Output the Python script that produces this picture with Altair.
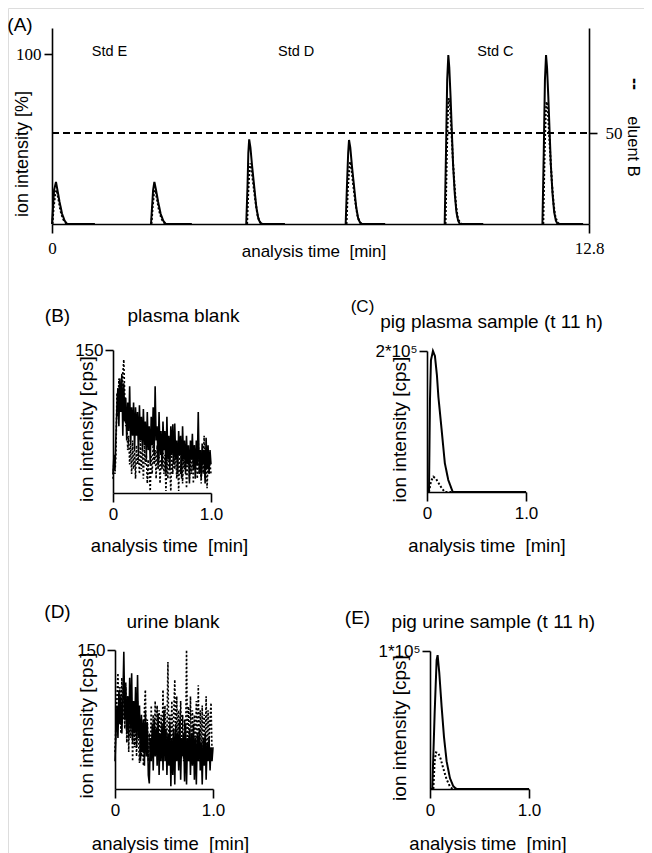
import altair as alt
import pandas as pd

SANS = "Liberation Sans"
SERIF = "Liberation Serif"

# ---------------- Panel A: six injections (Std E, Std D, Std C) ----------------
A_SOLID_TIME = [
    [0.00, 0.02, 0.05, 0.095, 0.13, 0.18, 0.24, 0.30, 0.36, 1.02],
    [2.36, 2.38, 2.41, 2.44, 2.48, 2.53, 2.59, 2.65, 2.71, 3.33],
    [4.63, 4.66, 4.68, 4.70, 4.73, 4.77, 4.82, 4.87, 4.92, 4.97, 5.02, 5.55],
    [7.00, 7.03, 7.06, 7.08, 7.11, 7.15, 7.20, 7.25, 7.30, 7.35, 7.40, 7.94],
    [9.36, 9.39, 9.42, 9.447, 9.47, 9.50, 9.53, 9.56, 9.60, 9.64, 9.68, 9.72, 10.28],
    [11.69, 11.72, 11.75, 11.776, 11.80, 11.83, 11.86, 11.89, 11.93, 11.97, 12.01, 12.05, 12.66],
]
A_SOLID_INT = [
    [0, 8, 20, 24.7, 20, 13, 6, 2, 0, 0],
    [0, 8, 20, 24.8, 20, 13, 6, 2, 0, 0],
    [0, 22, 42, 49.8, 45, 34, 22, 10, 3, 0.5, 0, 0],
    [0, 22, 42, 49.4, 45, 34, 22, 10, 3, 0.5, 0, 0],
    [0, 40, 85, 99.4, 92, 75, 55, 35, 18, 7, 2, 0, 0],
    [0, 40, 85, 99.4, 92, 75, 55, 35, 18, 7, 2, 0, 0],
]
A_DOT_TIME = [
    [0.01, 0.04, 0.08, 0.11, 0.15, 0.20, 0.26, 0.33, 0.40, 1.02],
    [2.37, 2.40, 2.43, 2.46, 2.50, 2.55, 2.61, 2.68, 2.75, 3.33],
    [4.65, 4.68, 4.71, 4.73, 4.76, 4.80, 4.85, 4.90, 4.95, 5.00, 5.55],
    [7.02, 7.05, 7.09, 7.11, 7.14, 7.18, 7.23, 7.28, 7.33, 7.38, 7.94],
    [9.38, 9.41, 9.44, 9.46, 9.49, 9.52, 9.55, 9.59, 9.63, 9.67, 9.72, 9.76, 10.28],
    [11.71, 11.74, 11.77, 11.79, 11.82, 11.85, 11.88, 11.92, 11.96, 12.00, 12.05, 12.09, 12.66],
]
A_DOT_INT = [
    [0, 10, 18, 20, 15, 8, 3, 0.5, 0, 0],
    [0, 10, 18, 20, 15, 8, 3, 0.5, 0, 0],
    [0, 20, 33, 35.7, 31, 23, 13, 5, 1.5, 0, 0],
    [0, 20, 34, 36.7, 32, 23, 13, 5, 1.5, 0, 0],
    [0, 40, 68, 74, 68, 55, 40, 24, 11, 4, 1, 0, 0],
    [0, 40, 66, 72, 66, 53, 39, 23, 11, 4, 1, 0, 0],
]
A_STD_LABEL = ["Std E", "Std D", "Std C"]
A_STD_TIME = [1.37, 5.82, 10.57]
A_STD_INT = [101.2, 101.2, 101.2]
ELUENT_TIME = [0.0, 12.8]
ELUENT_B = [50, 50]

# ---------------- Panels B and D: blanks (0..1 min, every 0.01 min) ----------------
BLANK_TIME = [0.00, 0.01, 0.02, 0.03, 0.04, 0.05, 0.06, 0.07, 0.08, 0.09,
              0.10, 0.11, 0.12, 0.13, 0.14, 0.15, 0.16, 0.17, 0.18, 0.19,
              0.20, 0.21, 0.22, 0.23, 0.24, 0.25, 0.26, 0.27, 0.28, 0.29,
              0.30, 0.31, 0.32, 0.33, 0.34, 0.35, 0.36, 0.37, 0.38, 0.39,
              0.40, 0.41, 0.42, 0.43, 0.44, 0.45, 0.46, 0.47, 0.48, 0.49,
              0.50, 0.51, 0.52, 0.53, 0.54, 0.55, 0.56, 0.57, 0.58, 0.59,
              0.60, 0.61, 0.62, 0.63, 0.64, 0.65, 0.66, 0.67, 0.68, 0.69,
              0.70, 0.71, 0.72, 0.73, 0.74, 0.75, 0.76, 0.77, 0.78, 0.79,
              0.80, 0.81, 0.82, 0.83, 0.84, 0.85, 0.86, 0.87, 0.88, 0.89,
              0.90, 0.91, 0.92, 0.93, 0.94, 0.95, 0.96, 0.97, 0.98, 0.99, 1.00]
B_SOLID = [20, 40, 25, 60, 90, 110, 70, 120, 85, 125,
           60, 115, 75, 100, 55, 95, 65, 112, 50, 90,
           60, 95, 45, 90, 60, 85, 40, 92, 55, 80,
           45, 88, 50, 75, 35, 85, 45, 70, 30, 80,
           50, 90, 40, 112, 55, 70, 30, 85, 40, 65,
           25, 75, 45, 65, 20, 80, 35, 60, 25, 70,
           40, 72, 30, 73, 35, 55, 20, 65, 40, 60,
           15, 70, 35, 55, 20, 60, 30, 50, 10, 55,
           35, 62, 25, 50, 15, 55, 30, 85, 20, 45,
           15, 52, 30, 45, 10, 58, 25, 50, 20, 45, 30]
B_DOT = [15, 35, 20, 40, 105, 80, 120, 95, 110, 100,
         125, 140, 100, 70, 85, 45, 60, 30, 50, 20,
         55, 25, 45, 15, 50, 30, 40, 20, 55, 25,
         45, 15, 50, 30, 40, 10, 35, 20, 2, 40,
         20, 55, 30, 45, 15, 50, 25, 40, 10, 35,
         30, 45, 20, 40, 2, 35, 15, 50, 25, 2,
         40, 20, 50, 25, 45, 15, 35, 2, 40, 20,
         55, 10, 35, 25, 45, 5, 30, 40, 15, 35,
         20, 45, 10, 50, 25, 40, 15, 55, 20, 35,
         10, 45, 20, 60, 15, 40, 5, 35, 20, 30, 20]
D_SOLID = [30, 60, 90, 55, 105, 70, 100, 60, 95, 148,
           75, 110, 60, 100, 55, 120, 65, 125, 50, 95,
           60, 110, 45, 123, 55, 90, 30, 80, 40, 75,
           25, 85, 35, 70, 15, 6, 55, 30, 70, 20,
           75, 35, 65, 25, 80, 15, 60, 30, 70, 20,
           85, 30, 65, 15, 60, 25, 70, 3, 55, 15,
           65, 5, 70, 30, 60, 20, 75, 10, 55, 35,
           60, 8, 70, 5, 55, 30, 65, 15, 60, 25,
           70, 10, 55, 5, 60, 30, 65, 20, 50, 5,
           55, 25, 60, 10, 50, 30, 55, 20, 45, 30, 45]
D_DOT = [40, 70, 100, 125, 80, 110, 60, 120, 75, 100,
         65, 115, 50, 100, 40, 95, 55, 85, 30, 90,
         45, 80, 35, 95, 50, 28, 70, 35, 60, 25,
         85, 107, 45, 75, 30, 60, 40, 90, 35, 80,
         45, 95, 40, 90, 50, 85, 35, 80, 45, 107,
         40, 90, 55, 60, 137, 35, 80, 45, 95, 40,
         85, 118, 35, 100, 50, 85, 45, 95, 40, 80,
         30, 75, 45, 150, 40, 89, 30, 100, 35, 85,
         40, 80, 35, 95, 45, 112, 30, 85, 40, 90,
         35, 80, 40, 100, 30, 85, 45, 75, 93, 40, 40]

# ---------------- Panels C and E: pig samples ----------------
C_SOLID_TIME = [0.0, 0.02, 0.03, 0.04, 0.06, 0.08, 0.10, 0.115, 0.148, 0.18, 0.215, 0.26, 1.0]
C_SOLID = [0, 0, 130000, 187000, 200000, 193000, 166000, 135000, 88000, 41000, 17000, 0, 0]
C_DOT_TIME = [0.02, 0.04, 0.064, 0.09, 0.12, 0.15, 0.18, 1.0]
C_DOT = [0, 15000, 21700, 19000, 12000, 5000, 0, 0]
E_SOLID_TIME = [0.0, 0.023, 0.047, 0.067, 0.077, 0.094, 0.117, 0.141, 0.168, 0.201, 0.235, 0.268, 1.0]
E_SOLID = [0, 0, 55000, 93500, 97000, 84000, 60000, 38000, 20000, 8000, 2000, 0, 0]
E_DOT_TIME = [0.034, 0.047, 0.06, 0.084, 0.107, 0.134, 0.168, 0.20, 0.228, 1.0]
E_DOT = [0, 20000, 26500, 26000, 22000, 15000, 7000, 2000, 0, 0]

# ---------------- build tables ----------------
rows = []
for i, (ts, vs) in enumerate(zip(A_SOLID_TIME, A_SOLID_INT)):
    rows += [{"t": t, "v": v, "series": "solid", "seg": f"s{i}"} for t, v in zip(ts, vs)]
for i, (ts, vs) in enumerate(zip(A_DOT_TIME, A_DOT_INT)):
    rows += [{"t": t, "v": v, "series": "dotted", "seg": f"d{i}"} for t, v in zip(ts, vs)]
dfA = pd.DataFrame(rows)
dfStd = pd.DataFrame({"t": A_STD_TIME, "v": A_STD_INT, "label": A_STD_LABEL})
dfEl = pd.DataFrame({"t": ELUENT_TIME, "v": ELUENT_B})


def two_series(ts1, vs1, ts2, vs2):
    r = [{"t": t, "v": v, "series": "solid", "seg": "s"} for t, v in zip(ts1, vs1)]
    r += [{"t": t, "v": v, "series": "dotted", "seg": "d"} for t, v in zip(ts2, vs2)]
    return pd.DataFrame(r)


dfB = two_series(BLANK_TIME, B_SOLID, BLANK_TIME, B_DOT)
dfC = two_series(C_SOLID_TIME, C_SOLID, C_DOT_TIME, C_DOT)
dfD = two_series(BLANK_TIME, D_SOLID, BLANK_TIME, D_DOT)
dfE = two_series(E_SOLID_TIME, E_SOLID, E_DOT_TIME, E_DOT)

W, H = 636, 845
DASH = alt.StrokeDash("series:N", scale=alt.Scale(domain=["solid", "dotted"], range=[[1, 0], [2, 2]]), legend=None)


def axis(orient, offset, values, font, size, pad, tick=8, expr=None):
    kw = dict(orient=orient, offset=offset, values=values, title=None, grid=False,
              tickSize=tick, labelFont=font, labelFontSize=size, labelPadding=pad,
              domainColor="black", tickColor="black", labelColor="black",
              domainWidth=1.6, tickWidth=1.6, labelOverlap=False, labelFlush=False)
    if expr is not None:
        kw["labelExpr"] = expr
    return alt.Axis(**kw)


def sc(dom, rng):
    return alt.Scale(domain=dom, range=rng, nice=False, zero=False)


# Panel A (page coordinates minus the 8px margin)
AX = sc([0, 12.8], [44, 581])
AY = sc([0, 115.3], [216, 20])
ax_Ax = axis("bottom", 216 - H, [0, 12.8], SERIF, 17, 7, tick=9,
             expr="datum.value == 0 ? '0' : '12.8'")
ax_Ay = axis("left", -44, [100], SERIF, 17, 3)
panelA_lines = alt.Chart(dfA).mark_line(color="black", strokeWidth=2).encode(
    x=alt.X("t:Q", scale=AX, axis=ax_Ax),
    y=alt.Y("v:Q", scale=AY, axis=ax_Ay),
    detail="seg:N", strokeDash=DASH)
panelA_std = alt.Chart(dfStd).mark_text(font=SANS, fontSize=14.5, color="black").encode(
    x=alt.X("t:Q", scale=AX, axis=ax_Ax),
    y=alt.Y("v:Q", scale=AY, axis=ax_Ay),
    text="label:N")
panelA = alt.layer(panelA_lines, panelA_std)

eluent = alt.Chart(dfEl).mark_line(color="black", strokeWidth=2, strokeDash=[7, 4]).encode(
    x=alt.X("t:Q", scale=AX, axis=None),
    y=alt.Y("v:Q", scale=sc([0, 107.7], [216, 20]),
            axis=axis("right", 581 - W, [50], SERIF, 17, 8)))


def small_panel(df, x0, x1, ybot, ytop, ymax, ylabel, sw):
    return alt.Chart(df).mark_line(color="black", strokeWidth=sw).encode(
        x=alt.X("t:Q", scale=sc([0, 1], [x0, x1]),
                axis=axis("bottom", ybot - H, [0, 1], SANS, 17, 4, tick=9,
                          expr="datum.value == 0 ? '0' : '1.0'")),
        y=alt.Y("v:Q", scale=sc([0, ymax], [ybot, ytop]),
                axis=axis("left", -x0, [ymax], SANS, 17, 2, expr=f"'{ylabel}'")),
        detail="seg:N", strokeDash=DASH)


panelB = small_panel(dfB, 105, 203, 485, 342, 150, "150", 1.6)
panelC = small_panel(dfC, 419, 518, 484, 343, 200000, "2*10\u2075", 2)
panelD = small_panel(dfD, 107, 205, 781, 642, 150, "150", 1.6)
panelE = small_panel(dfE, 422, 521, 781, 643, 100000, "1*10\u2075", 2)

# ---------------- annotations (pixel positions) ----------------
NB = "\u00a0"
ANN_TEXT = ["(A)", "ion intensity [%]", "analysis time" + NB + " [min]", "eluent B",
            "(B)", "plasma blank", "ion intensity [cps]", "analysis time" + NB + " [min]",
            "(C)", "pig plasma sample (t 11 h)", "ion intensity [cps]", "analysis time" + NB + " [min]",
            "(D)", "urine blank", "ion intensity [cps]", "analysis time" + NB + " [min]",
            "(E)", "pig urine sample (t 11 h)", "ion intensity [cps]", "analysis time" + NB + " [min]"]
ANN_X = [12, 15, 306, 625,
         49.5, 175.5, 78.5, 161.5,
         354.5, 483.5, 392, 479,
         49.5, 165, 78.5, 162.5,
         349.5, 485.3, 392, 480]
ANN_Y = [17, 146, 244, 138.5,
         307.5, 308, 421, 538,
         298.7, 313.5, 421.5, 538,
         603.5, 613.5, 717.5, 836,
         609.5, 613.5, 720, 836]
ANN_SIZE = [19, 18, 17, 16.5,
            19, 19, 19, 18.5,
            17, 19, 19, 18.5,
            19, 19, 19, 18.5,
            19, 19, 19, 18.5]
ANN_ANGLE = [0, 270, 0, 90,
             0, 0, 270, 0,
             0, 0, 270, 0,
             0, 0, 270, 0,
             0, 0, 270, 0]
dfAnn = pd.DataFrame({"label": ANN_TEXT, "px": ANN_X, "py": ANN_Y, "fs": ANN_SIZE, "ang": ANN_ANGLE})
annot = alt.Chart(dfAnn).mark_text(font=SANS, color="black", baseline="middle", align="center").encode(
    x=alt.X("px:Q", scale=None, axis=None),
    y=alt.Y("py:Q", scale=None, axis=None),
    size=alt.Size("fs:Q", scale=None, legend=None),
    angle=alt.Angle("ang:Q", scale=None, legend=None),
    text="label:N")

dfDash = pd.DataFrame({"label": ["--"], "px": [626], "py": [76]})
dash_mark = alt.Chart(dfDash).mark_text(font=SANS, fontSize=18, fontWeight="bold", angle=90,
                                         color="black", baseline="middle", align="center").encode(
    x=alt.X("px:Q", scale=None, axis=None),
    y=alt.Y("py:Q", scale=None, axis=None),
    text="label:N")

chart = alt.layer(panelA, eluent, panelB, panelC, panelD, panelE, annot, dash_mark).resolve_scale(
    x="independent", y="independent").properties(
    width=W, height=H, padding=0, autosize=alt.AutoSizeParams(type="none")
).configure_view(stroke=None).configure(background="white")

chart.save("out.html", embed_options={"renderer": "svg", "actions": False})
